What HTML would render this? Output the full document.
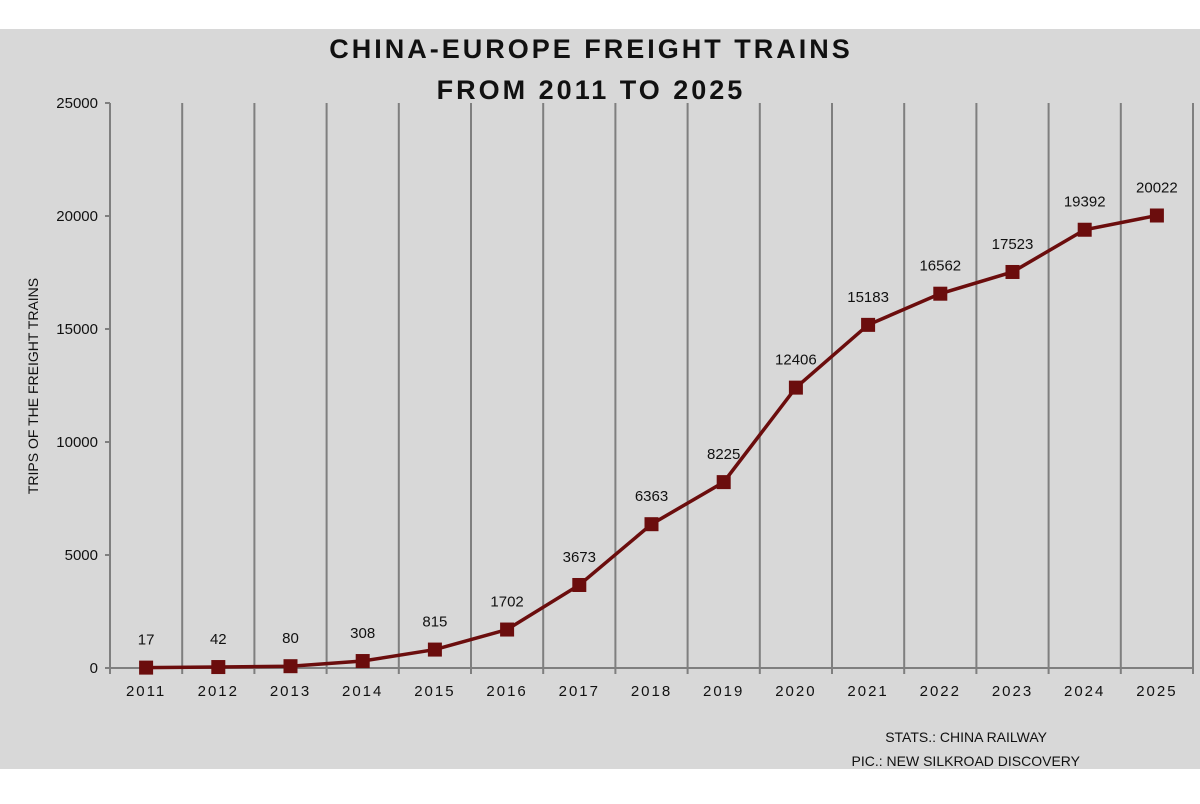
<!DOCTYPE html>
<html><head><meta charset="utf-8"><style>
body{margin:0;width:1200px;height:799px;background:#fff;overflow:hidden}
svg text{font-family:"Liberation Sans",sans-serif}
</style></head><body>
<svg width="1200" height="799">
<rect x="0" y="29" width="1200" height="740" fill="#d8d8d8"/>
<text x="591" y="58" text-anchor="middle" font-size="27" font-weight="bold" letter-spacing="3" fill="#111">CHINA-EUROPE FREIGHT TRAINS</text>
<text x="591" y="99" text-anchor="middle" font-size="27" font-weight="bold" letter-spacing="3" fill="#111">FROM 2011 TO 2025</text>
<text transform="translate(38,386) rotate(-90)" text-anchor="middle" font-size="14" fill="#111">TRIPS OF THE FREIGHT TRAINS</text>
<text x="1047" y="742" text-anchor="end" font-size="14" fill="#111">STATS.: CHINA RAILWAY</text>
<text x="1080" y="766" text-anchor="end" font-size="14" fill="#111">PIC.: NEW SILKROAD DISCOVERY</text>
<g id="grid"></g><g id="axes"></g><g id="marks"></g>
</svg>
<script>
const years=["2011","2012","2013","2014","2015","2016","2017","2018","2019","2020","2021","2022","2023","2024","2025"];
const trips=[17,42,80,308,815,1702,3673,6363,8225,12406,15183,16562,17523,19392,20022];
const yTicks=[0,5000,10000,15000,20000,25000];
const ns="http://www.w3.org/2000/svg";
const X0=110,CW=72.2,Y0=668,YMAX=25000,YTOP=103;
const xs=i=>X0+CW*(i+0.5);
const ys=v=>Y0-(v/YMAX)*(Y0-YTOP);
function mk(t,a,p){const e=document.createElementNS(ns,t);for(const k in a)e.setAttribute(k,a[k]);p.appendChild(e);return e;}
const grid=document.getElementById('grid'),axes=document.getElementById('axes'),marks=document.getElementById('marks');
for(let i=1;i<=years.length;i++){const l=mk('line',{x1:X0+CW*i,x2:X0+CW*i,y1:YTOP,y2:Y0+6,stroke:'#7f7f7f','stroke-width':2},grid);

}
const ax=mk('line',{x1:X0,x2:X0+CW*years.length,y1:Y0,y2:Y0,stroke:'#7f7f7f','stroke-width':2},axes);


const ay=mk('line',{x1:X0,x2:X0,y1:YTOP,y2:Y0+6,stroke:'#7f7f7f','stroke-width':2},axes);


yTicks.forEach(v=>{const t=mk('line',{x1:X0-5,x2:X0,y1:ys(v),y2:ys(v),stroke:'#7f7f7f','stroke-width':2},axes);


const tx=mk('text',{x:X0-12,y:ys(v)+5,'text-anchor':'end','font-size':15,fill:'#111'},axes);tx.textContent=v;

});
years.forEach((y,i)=>{const t=mk('text',{x:xs(i),y:Y0+28,'text-anchor':'middle','font-size':15,'letter-spacing':2,fill:'#111'},axes);t.textContent=y;

});
const pl=mk('polyline',{points:trips.map((v,i)=>xs(i)+','+ys(v)).join(' '),fill:'none',stroke:'#6b0d0d','stroke-width':3.5},marks);


trips.forEach((v,i)=>{const r=mk('rect',{x:xs(i)-7,y:ys(v)-7,width:14,height:14,fill:'#6b0d0d'},marks);


const t=mk('text',{x:xs(i),y:ys(v)-23,'text-anchor':'middle','font-size':15,fill:'#111'},marks);t.textContent=v;

});
</script>
</body></html>
